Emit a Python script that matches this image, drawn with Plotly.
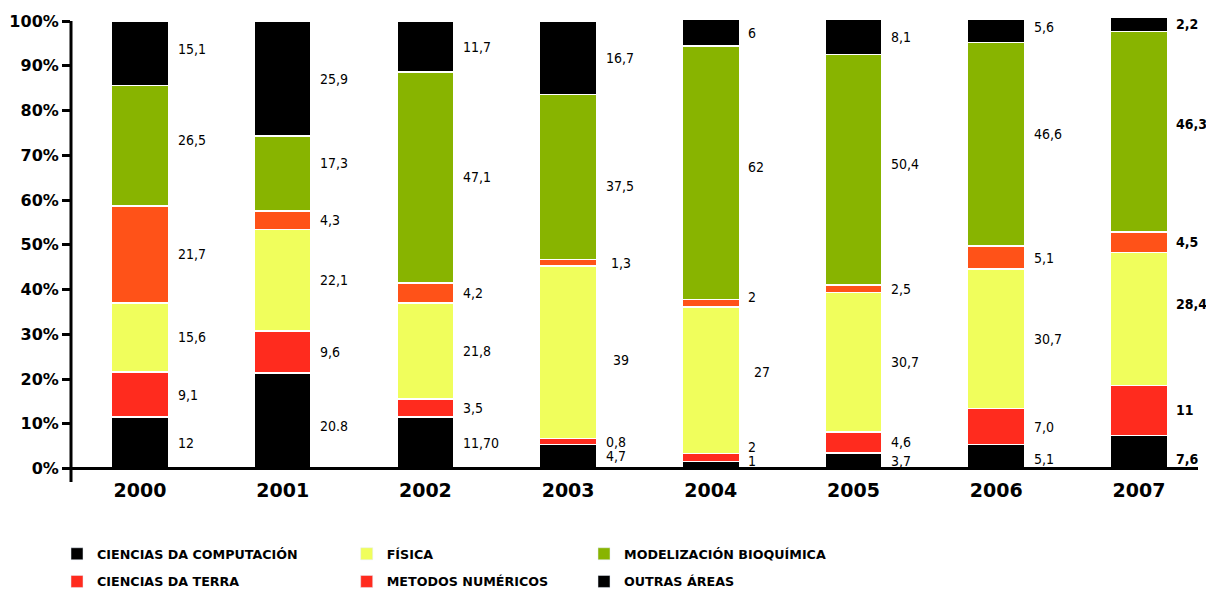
import plotly.graph_objects as go

years = ["2000", "2001", "2002", "2003", "2004", "2005", "2006", "2007"]

# bar heights (%), bottom to top
comp = [11.5, 21.4, 11.5, 5.4, 1.6, 3.5, 5.4, 7.4]
terra = [10.1, 9.3, 4.1, 1.3, 1.8, 4.7, 8.0, 11.2]
fisica = [15.4, 22.7, 21.4, 38.6, 32.7, 31.1, 31.2, 29.7]
metodos = [21.7, 4.2, 4.5, 1.4, 1.7, 1.7, 5.1, 4.6]
bio = [26.9, 16.7, 47.1, 36.9, 56.6, 51.5, 45.5, 44.8]
outras = [14.4, 25.7, 11.4, 16.4, 6.0, 7.9, 5.3, 3.2]

# value labels as printed on the chart
lab_comp = ["12", "20.8", "11,70", "4,7", "1", "3,7", "5,1", "7,6"]
lab_terra = ["9,1", "9,6", "3,5", "0,8", "2", "4,6", "7,0", "11"]
lab_fisica = ["15,6", "22,1", "21,8", "39", "27", "30,7", "30,7", "28,4"]
lab_metodos = ["21,7", "4,3", "4,2", "1,3", "2", "2,5", "5,1", "4,5"]
lab_bio = ["26,5", "17,3", "47,1", "37,5", "62", "50,4", "46,6", "46,3"]
lab_outras = ["15,1", "25,9", "11,7", "16,7", "6", "8,1", "5,6", "2,2"]

y_ticks = [0, 10, 20, 30, 40, 50, 60, 70, 80, 90, 100]
y_ticktext = [f"{t}%" for t in y_ticks]

names = ["CIENCIAS DA COMPUTACIÓN", "CIENCIAS DA TERRA", "FÍSICA",
         "METODOS NUMÉRICOS", "MODELIZACIÓN BIOQUÍMICA", "OUTRAS ÁREAS"]
series = [comp, terra, fisica, metodos, bio, outras]
labels = [lab_comp, lab_terra, lab_fisica, lab_metodos, lab_bio, lab_outras]
colors = ["#000000", "#FF2B1E", "#F0FE5C", "#FF5218", "#88B400", "#000000"]
legend_colors = ["#000000", "#FF2B1E", "#F0FE5C", "#FF2B1E", "#88B400", "#000000"]

# page has an 8px body margin; figure coordinates = page coordinates - 8
OFF = 8
W, H = 1214 - OFF, 592 - OFF

# legend placement in page pixels
legend_pos = {
    0: ("legend", 57, 554),
    2: ("legend2", 346.7, 554),
    4: ("legend3", 584, 554),
    1: ("legend4", 57, 581.7),
    3: ("legend5", 346.7, 581.7),
    5: ("legend6", 584, 581.7),
}

# label nudges (series index, year index) -> (dx px, dy px up)
nudges = {
    (4, 0): (0, 6), (5, 0): (0, 4),
    (4, 1): (0, 10), (0, 1): (0, -5),
    (2, 3): (7, -8), (4, 3): (0, -9), (3, 3): (5, 0),
    (0, 4): (0, 4), (1, 4): (0, 10), (2, 4): (6, 8), (3, 4): (0, 6), (4, 4): (0, 6),
    (4, 5): (0, 6),
    (4, 6): (0, 10), (5, 6): (0, 4),
    (0, 6): (0, -3),
    (0, 7): (0, -7), (2, 7): (0, 15), (4, 7): (0, 8),
}

# plot area in page pixels: left 71, right 1198, top 16.7, bottom 481.7
ml = 71 - OFF
mr = (W + OFF) - 1198
mt = 16.7 - OFF
mb = (H + OFF) - 481.7

label_font = "DejaVu Sans Condensed, DejaVu Sans"

fig = go.Figure()
for k, (nm, vals) in enumerate(zip(names, series)):
    leg = legend_pos[k][0]
    fig.add_trace(go.Bar(
        x=years, y=vals, name=nm, width=0.4,
        marker=dict(color=colors[k], line=dict(color="white", width=1.5)),
        legend=leg, showlegend=False, hoverinfo="skip",
    ))
    fig.add_trace(go.Bar(
        x=[None], y=[None], name=nm, marker=dict(color=legend_colors[k]),
        legend=leg, showlegend=True,
    ))

annotations = []
cum = [0.0] * len(years)
for k, vals in enumerate(series):
    for i, v in enumerate(vals):
        mid = cum[i] + v / 2
        dx, dy = nudges.get((k, i), (0, 0))
        annotations.append(dict(
            x=i + 0.2, y=mid, xref="x", yref="y", text=labels[k][i],
            showarrow=False, xanchor="left", yanchor="middle",
            xshift=7 + dx, yshift=dy,
            font=dict(family=label_font, size=14, color="#000000",
                      weight="bold" if i == 7 else "normal"),
        ))
        cum[i] += v

layout_legends = {}
for k, (leg, px, py) in legend_pos.items():
    layout_legends[leg] = dict(
        xref="container", yref="container",
        x=(px - OFF) / W, y=1 - (py - OFF) / H, xanchor="left", yanchor="middle",
        orientation="h", bgcolor="rgba(0,0,0,0)", borderwidth=0,
        font=dict(family="DejaVu Sans", size=12.7, color="#000000", weight="bold"),
    )

fig.update_layout(
    width=W, height=H, barmode="stack",
    margin=dict(l=ml, r=mr, t=mt, b=mb, autoexpand=False),
    plot_bgcolor="white", paper_bgcolor="white",
    annotations=annotations,
    xaxis=dict(type="category", range=[-0.4835, 7.414], showline=False, showgrid=False,
               ticks="", zeroline=False, ticklabelstandoff=-5,
               tickfont=dict(family="DejaVu Sans", size=19, color="#000000", weight="bold")),
    yaxis=dict(range=[-3, 100.9], tickvals=y_ticks, ticktext=y_ticktext,
               showgrid=False, showline=False, ticks="outside", ticklen=8, tickwidth=3,
               tickcolor="#000000", zeroline=False,
               tickfont=dict(family="DejaVu Sans", size=16, color="#000000", weight="bold")),
    shapes=[
        dict(type="line", xref="paper", yref="y", x0=0, x1=0, y0=-3, y1=100,
             line=dict(color="#000000", width=3), layer="above"),
        dict(type="line", xref="paper", yref="y", x0=0, x1=1, y0=0, y1=0,
             line=dict(color="#000000", width=3), layer="above"),
    ],
    **layout_legends,
)

fig.write_html("out.html")
